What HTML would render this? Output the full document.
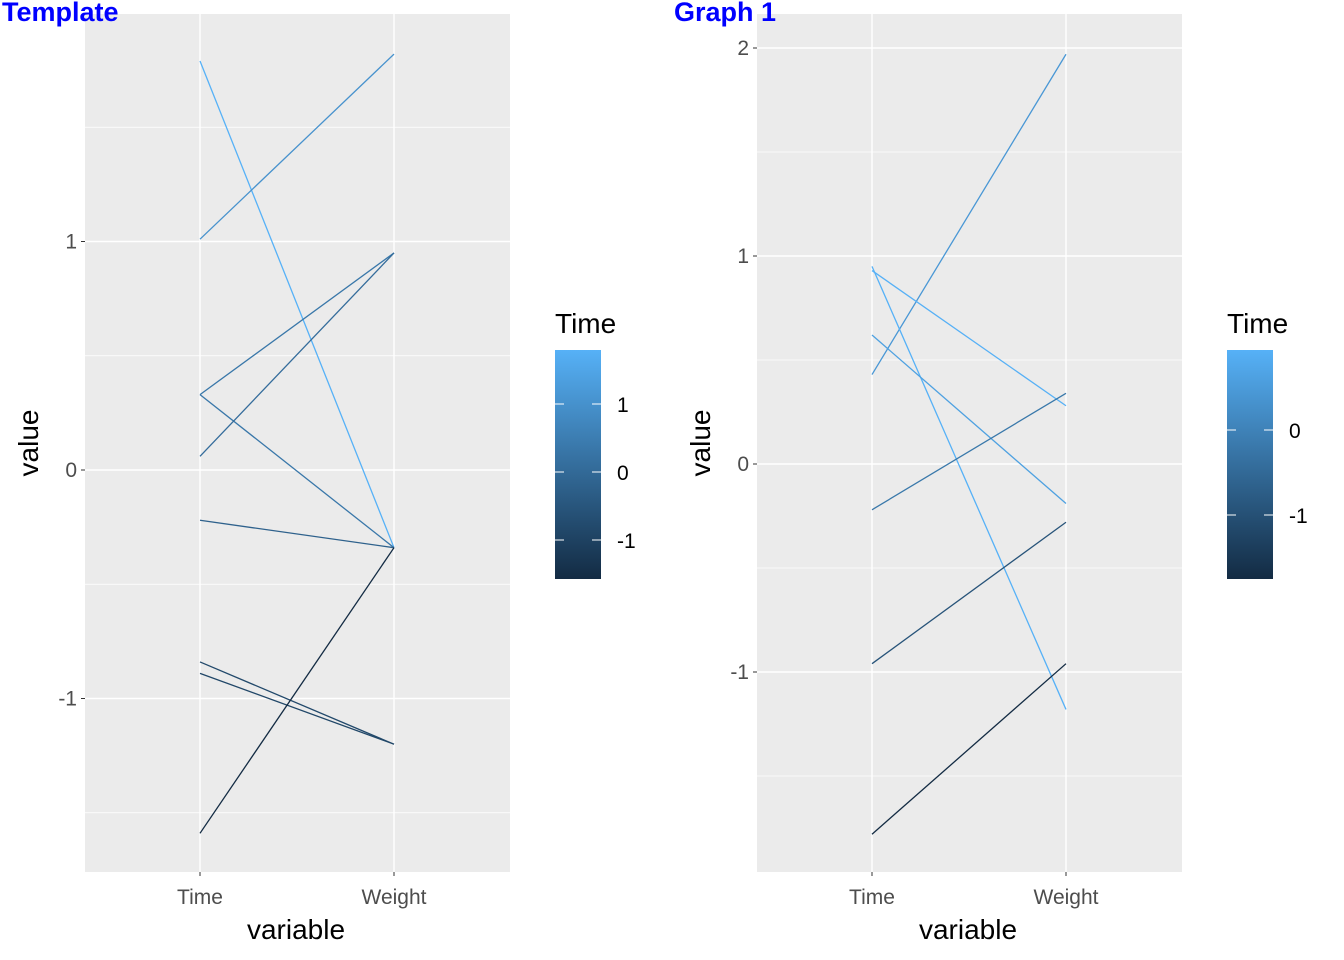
<!DOCTYPE html>
<html><head><meta charset="utf-8"><style>
body{margin:0;background:#fff;}
svg{display:block;font-family:"Liberation Sans",sans-serif;}
</style></head><body>
<svg id="c" width="1344" height="960"></svg>
<script>
const categories = ["Time","Weight"];
const leftTime   = [1.79, 1.01, 0.33, 0.33, 0.06, -0.22, -0.84, -0.89, -1.59];
const leftWeight = [-0.34, 1.82, 0.95, -0.34, 0.95, -0.34, -1.20, -1.20, -0.34];
const leftTicks  = [-1, 0, 1];
const rightTime   = [0.43, 0.95, 0.93, 0.62, -0.22, -0.96, -1.78];
const rightWeight = [1.97, -1.18, 0.28, -0.19, 0.34, -0.28, -0.96];
const rightTicks  = [-1, 0, 1, 2];

const NS="http://www.w3.org/2000/svg";
const svg=document.getElementById('c');
function el(tag,attrs,parent,text){const e=document.createElementNS(NS,tag);for(const k in attrs)e.setAttribute(k,attrs[k]);if(text!==undefined)e.textContent=text;(parent||svg).appendChild(e);return e;}
const lo=[0x13,0x2B,0x43], hi=[0x56,0xB1,0xF7];
function col(t){t=Math.max(0,Math.min(1,t));return 'rgb('+lo.map((v,i)=>Math.round(v+(hi[i]-v)*t)).join(',')+')';}

function panel(ox,title,tv,wv,ticks,y0,ppu,cbTicks,cbZero,cbPpu){
  const g=el('g',{},svg);
  
  
  const px0=ox+85,px1=ox+510,py0=14,py1=872;
  const y=v=>y0-v*ppu;
  const xs=[ox+200,ox+394];
  const bg=el('rect',{x:px0,y:py0,width:px1-px0,height:py1-py0,fill:'#ebebeb'},g);
  
  const mn=Math.min(...ticks)-1,mx=Math.max(...ticks)+1;
  for(let v=mn;v<=mx;v+=0.5){const yy=y(v);if(yy<py0||yy>py1)continue;
    const isMaj=Number.isInteger(v);
    el('line',{x1:px0,x2:px1,y1:yy,y2:yy,stroke:'#fff','stroke-width':isMaj?1.4:0.7},g);}
  xs.forEach(x=>el('line',{x1:x,x2:x,y1:py0,y2:py1,stroke:'#fff','stroke-width':1.4},g));
  ticks.forEach(v=>{const yy=y(v);
    el('line',{x1:px0-4,x2:px0,y1:yy,y2:yy,stroke:'#333','stroke-width':1},g);
    const t=el('text',{x:px0-8,y:yy+7,'text-anchor':'end','font-size':21,fill:'#4d4d4d'},g,String(v));
    });
  categories.forEach((c,i)=>{
    el('line',{x1:xs[i],x2:xs[i],y1:py1,y2:py1+4,stroke:'#333','stroke-width':1},g);
    const t=el('text',{x:xs[i],y:py1+32,'text-anchor':'middle','font-size':21,fill:'#4d4d4d'},g,c);
    });
  const tmin=Math.min(...tv),tmax=Math.max(...tv);
  tv.forEach((tvv,i)=>{
    const l=el('line',{x1:xs[0],y1:y(tvv),x2:xs[1],y2:y(wv[i]),stroke:col((tvv-tmin)/(tmax-tmin)),'stroke-width':1.3},g);
    });
  let t=el('text',{x:ox+296,y:939,'text-anchor':'middle','font-size':28,fill:'#000'},g,'variable');
  
  t=el('text',{x:0,y:0,'text-anchor':'middle','font-size':28,fill:'#000',transform:'translate('+(ox+38)+',443) rotate(-90)'},g,'value');
  
  t=el('text',{x:ox+2,y:21,'font-size':27,'font-weight':'bold',fill:'#0000ff'},g,title);
  
  t=el('text',{x:ox+555,y:333,'font-size':28,fill:'#000'},g,'Time');
  
  const gid='grad'+ox;
  const defs=el('defs',{},g);
  const lg=el('linearGradient',{id:gid,x1:0,y1:1,x2:0,y2:0},defs);
  el('stop',{offset:'0%','stop-color':col(0)},lg);el('stop',{offset:'100%','stop-color':col(1)},lg);
  const cb=el('rect',{x:ox+555,y:350,width:46,height:229,fill:'url(#'+gid+')'},g);
  
  cbTicks.forEach(v=>{const yy=cbZero-v*cbPpu;
    el('line',{x1:ox+555,x2:ox+564,y1:yy,y2:yy,stroke:'#fff','stroke-width':1},g);
    el('line',{x1:ox+592,x2:ox+601,y1:yy,y2:yy,stroke:'#fff','stroke-width':1},g);
    const tt=el('text',{x:ox+617,y:yy+8,'font-size':21,fill:'#000'},g,String(v));
    });
}
panel(0,'Template',leftTime,leftWeight,leftTicks,470,228.5,[1,0,-1],472,68);
panel(672,'Graph 1',rightTime,rightWeight,rightTicks,464,208,[0,-1],430,85);
</script>
</body></html>
